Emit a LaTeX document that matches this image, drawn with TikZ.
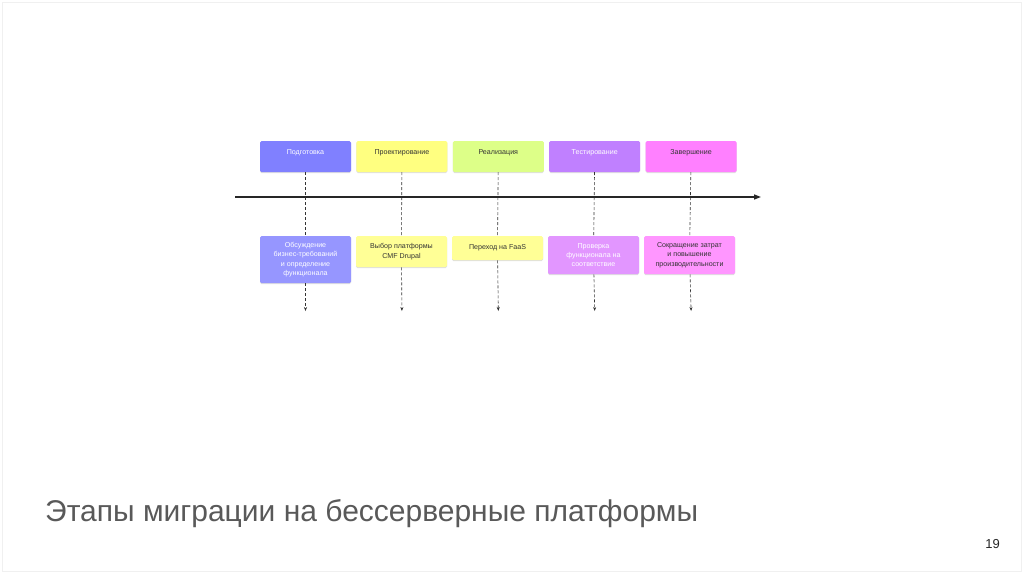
\documentclass[tikz,border=0pt]{standalone}
\usepackage{fontspec}
\setmainfont{Liberation Sans}
\definecolor{PrepBlue}{RGB}{128,128,255}
\definecolor{PrepSoft}{RGB}{150,150,255}
\definecolor{DesignYellow}{RGB}{255,255,128}
\definecolor{DesignSoft}{RGB}{255,255,150}
\definecolor{BuildLime}{RGB}{221,255,136}
\definecolor{TestViolet}{RGB}{192,128,255}
\definecolor{TestSoft}{RGB}{226,150,255}
\definecolor{DoneMagenta}{RGB}{255,128,255}
\definecolor{DoneSoft}{RGB}{255,150,255}
\definecolor{TitleGray}{RGB}{89,89,89}
\usetikzlibrary{positioning,arrows.meta,shadows}

\begin{document}
\begin{tikzpicture}[x=1pt, y=-1pt,
      every node/.style={font=\fontsize{7.1}{9.2}\selectfont, align=center},
      stage/.style={rounded corners=1.5pt, minimum width=91pt, minimum height=31pt,
                    inner sep=2pt, text=black!80, text depth=8pt,
                    drop shadow={shadow xshift=0pt, shadow yshift=-1pt, opacity=0.25}},
      task/.style={stage, text depth=, anchor=north},
      guide/.style={densely dashed, line width=0.6pt, black!80},
      flow/.style={line width=1.3pt, black!85, -{Triangle[length=7pt, width=5pt]}}
  ]
    \fill[white] (0,0) rectangle (1024,574);
    \draw[black!6] (2,2) rectangle (1021,571);
    \useasboundingbox (0,0) rectangle (1024,574);

    % stages
    \node[stage, fill=PrepBlue, text=white] (s1) at (305.5,156.5) {Подготовка};
    \node[stage, fill=DesignYellow, right=5pt of s1] (s2) {Проектирование};
    \node[stage, fill=BuildLime, right=5pt of s2] (s3) {Реализация};
    \node[stage, fill=TestViolet, text=white, right=5pt of s3] (s4) {Тестирование};
    \node[stage, fill=DoneMagenta, right=5pt of s4] (s5) {Завершение};

    % timeline
    \coordinate (tl0) at (235,197);
    \coordinate (tl1) at (761,197);

    % tasks
    \node[task, fill=PrepSoft, text=white, minimum height=47pt] (b1) at (305.5,236)
      {Обсуждение\\бизнес-требований\\и определение\\функционала};
    \node[task, fill=DesignSoft, minimum height=31pt] (b2) at (401.5,236)
      {Выбор платформы\\CMF Drupal};
    \node[task, fill=DesignSoft, minimum height=24pt] (b3) at (497.5,236)
      {Переход на FaaS};
    \node[task, fill=TestSoft, text=white, minimum height=38pt] (b4) at (593.5,236)
      {Проверка\\функционала на\\соответствие};
    \node[task, fill=DoneSoft, minimum height=38pt] (b5) at (689.5,236)
      {Сокращение затрат\\и повышение\\производительности};

    \foreach \i in {1,...,5} {
      \coordinate (e\i) at ([yshift=-1pt] s\i.center |- 0,310);
      \draw[guide] (s\i) -- (b\i);
      \draw[guide, -{Stealth[length=4pt, width=3pt]}] (b\i) -- (e\i);
    }
    \draw[flow] (tl0) -- (tl1);

    % slide title and number
    \node[anchor=base west, font=\fontsize{30}{33}\selectfont, text=TitleGray, inner sep=0pt]
      (title) at (45,521) {Этапы миграции на бессерверные платформы};
    \node[anchor=base east, font=\fontsize{13}{15}\selectfont, text=black!85, inner sep=0pt]
      (page) at (1000,548) {19};
\end{tikzpicture}
\end{document}
